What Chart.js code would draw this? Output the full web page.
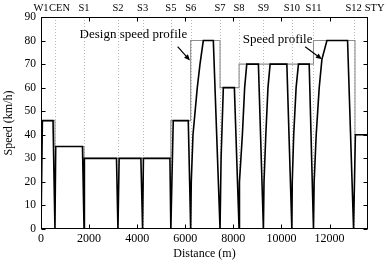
<!DOCTYPE html>
<html>
<head>
<meta charset="utf-8">
<script src="https://cdn.jsdelivr.net/npm/chart.js@4/dist/chart.umd.min.js"></script>
<style>
html,body{margin:0;padding:0;background:#fff;}
canvas{display:block;}
</style>
</head>
<body>
<canvas id="c" width="388" height="265"></canvas>
<script>
// ---- data ----
const stationNames = ['W1','CEN','S1','S2','S3','S5','S6','S7','S8','S9','S10','S11','S12','STY'];
const stationDistances = [0,580,1790,3200,4225,5400,6225,7446,8238,9250,10433,11333,13000,13600];

const designDistances = [0,580,1790,5400,6225,7446,8238,11333,13060,13600];
const designSpeeds    = [46,35,30,46,80,60,70,80,40,40];

const profileDistances = [
  0,58,500,580,
  580,612,1725,1790,
  1790,1820,3140,3200,
  3200,3250,4154,4225,
  4225,4260,5362,5400,
  5400,5500,6125,6225,
  6225,6250,6321,6500,6613,6750,7167,7446,
  7446,7490,7583,8042,8238,
  8238,8270,8375,8470,8558,9042,9250,
  9250,9275,9350,9440,9529,10225,10433,
  10433,10450,10510,10610,10708,11154,11333,
  11333,11360,11446,11571,11683,11892,12750,13000,
  13000,13075,13600
];
const profileSpeeds = [
  0,46,46,0,
  0,35,35,0,
  0,30,30,0,
  0,30,30,0,
  0,30,30,0,
  0,46,46,0,
  0,20,40,60,70,80,80,0,
  0,30,60,60,0,
  0,20,40,60,70,70,0,
  0,20,40,60,70,70,0,
  0,20,40,60,70,70,0,
  0,20,40,60,72,80,80,0,
  0,40,40
];

const xTickValues = [0,2000,4000,6000,8000,10000,12000];
const yTickValues = [0,10,20,30,40,50,60,70,80,90];

const annotations = [
  {text:'Design speed profile', tx:3842, ty:82.4, ax0:5683, ay0:77.4, ax1:6196, ay1:71.5},
  {text:'Speed profile',        tx:9842, ty:80.6, ax0:10988, ay0:77.4, ax1:11683, ay1:72.1}
];

const SERIF = '"Liberation Serif","DejaVu Serif",serif';

const decor = {
  id:'decor',
  beforeDatasetsDraw(chart){
    const {ctx, chartArea:a, scales:{x}} = chart;
    ctx.save();
    ctx.strokeStyle = '#b8b8b8';
    ctx.lineWidth = 1;
    ctx.setLineDash([1,2]);
    stationDistances.forEach(d=>{
      if (d <= x.min || d >= x.max) return;
      const px = Math.round(x.getPixelForValue(d)) + 0.5;
      ctx.beginPath(); ctx.moveTo(px, a.top); ctx.lineTo(px, a.bottom); ctx.stroke();
    });
    ctx.restore();
  },
  afterDatasetsDraw(chart){
    const {ctx, chartArea:a, scales:{x,y}} = chart;
    ctx.save();
    // frame
    ctx.strokeStyle = '#000'; ctx.lineWidth = 1; ctx.setLineDash([]);
    const L = Math.round(a.left)+0.5, R = Math.round(a.right)-0.5, T = Math.round(a.top)+0.5, B = Math.round(a.bottom)-0.5;
    ctx.strokeRect(L, T, R-L, B-T);
    // inward ticks
    const tl = 4;
    ctx.beginPath();
    xTickValues.forEach(v=>{
      const px = Math.round(x.getPixelForValue(v))+0.5;
      ctx.moveTo(px,B); ctx.lineTo(px,B-tl);
      ctx.moveTo(px,T); ctx.lineTo(px,T+tl);
    });
    yTickValues.forEach(v=>{
      const py = Math.round(y.getPixelForValue(v))+0.5;
      ctx.moveTo(L,py); ctx.lineTo(L+tl,py);
      ctx.moveTo(R,py); ctx.lineTo(R-tl,py);
    });
    ctx.stroke();
    // station labels
    ctx.font = '10.5px ' + SERIF;
    ctx.fillStyle = '#000';
    ctx.textAlign = 'left';
    ctx.textBaseline = 'middle';
    let prevRight = -Infinity;
    stationDistances.forEach((d,i)=>{
      const w = ctx.measureText(stationNames[i]).width;
      let left = x.getPixelForValue(d) - w/2;
      const gap = i === 1 ? 0.5 : 3;
      if (left < prevRight + gap) left = prevRight + gap;
      ctx.fillText(stationNames[i], left, 8);
      prevRight = left + w;
    });
    // annotations
    ctx.font = '13px ' + SERIF;
    ctx.textAlign = 'center';
    annotations.forEach(an=>{
      ctx.fillText(an.text, x.getPixelForValue(an.tx), y.getPixelForValue(an.ty));
      const x0 = x.getPixelForValue(an.ax0), y0 = y.getPixelForValue(an.ay0);
      const x1 = x.getPixelForValue(an.ax1), y1 = y.getPixelForValue(an.ay1);
      const ang = Math.atan2(y1-y0, x1-x0);
      const hl = 6, hw = 2.6;
      ctx.beginPath(); ctx.moveTo(x0,y0);
      ctx.lineTo(x1 - hl*Math.cos(ang)*0.7, y1 - hl*Math.sin(ang)*0.7);
      ctx.lineWidth = 1.2; ctx.stroke();
      ctx.beginPath();
      ctx.moveTo(x1,y1);
      ctx.lineTo(x1 - hl*Math.cos(ang) + hw*Math.sin(ang), y1 - hl*Math.sin(ang) - hw*Math.cos(ang));
      ctx.lineTo(x1 - hl*Math.cos(ang) - hw*Math.sin(ang), y1 - hl*Math.sin(ang) + hw*Math.cos(ang));
      ctx.closePath(); ctx.fill();
    });
    ctx.restore();
  }
};

new Chart(document.getElementById('c'), {
  type:'line',
  data:{
    datasets:[
      {
        label:'Speed profile',
        data: profileDistances.map((d,i)=>({x:d, y:profileSpeeds[i]})),
        borderColor:'#000', borderWidth:1.6, pointRadius:0, fill:false, tension:0, order:1
      },
      {
        label:'Design speed profile',
        data: designDistances.map((d,i)=>({x:d, y:designSpeeds[i]})),
        borderColor:'#8e8e8e', borderWidth:1.1, pointRadius:0, fill:false, stepped:'before', order:2
      }
    ]
  },
  options:{
    responsive:false,
    devicePixelRatio:1,
    animation:false,
    events:[],
    layout:{padding:{left:0, top:17, right:20, bottom:0}},
    plugins:{legend:{display:false}, tooltip:{enabled:false}},
    scales:{
      x:{
        type:'linear', min:0, max:13600,
        afterBuildTicks(s){ s.ticks = xTickValues.map(v=>({value:v})); },
        afterFit(s){ s.height = 36; },
        grid:{display:false, drawTicks:false},
        border:{display:false},
        ticks:{padding:3, color:'#000', font:{family:SERIF, size:12}, maxRotation:0, autoSkip:false,
               callback:(v)=>String(v)},
        title:{display:true, text:'Distance (m)', color:'#000', font:{family:SERIF, size:12}, padding:{top:0,bottom:4}}
      },
      y:{
        type:'linear', min:0, max:90,
        afterBuildTicks(s){ s.ticks = yTickValues.map(v=>({value:v})); },
        afterFit(s){ s.width = 41; },
        grid:{display:false, drawTicks:false},
        border:{display:false},
        ticks:{padding:5, color:'#000', font:{family:SERIF, size:11.5}, autoSkip:false,
               callback:(v)=>String(v)},
        title:{display:true, text:'Speed (km/h)', color:'#000', font:{family:SERIF, size:12}, padding:{top:2,bottom:0}}
      }
    }
  },
  plugins:[decor]
});
</script>
</body>
</html>
